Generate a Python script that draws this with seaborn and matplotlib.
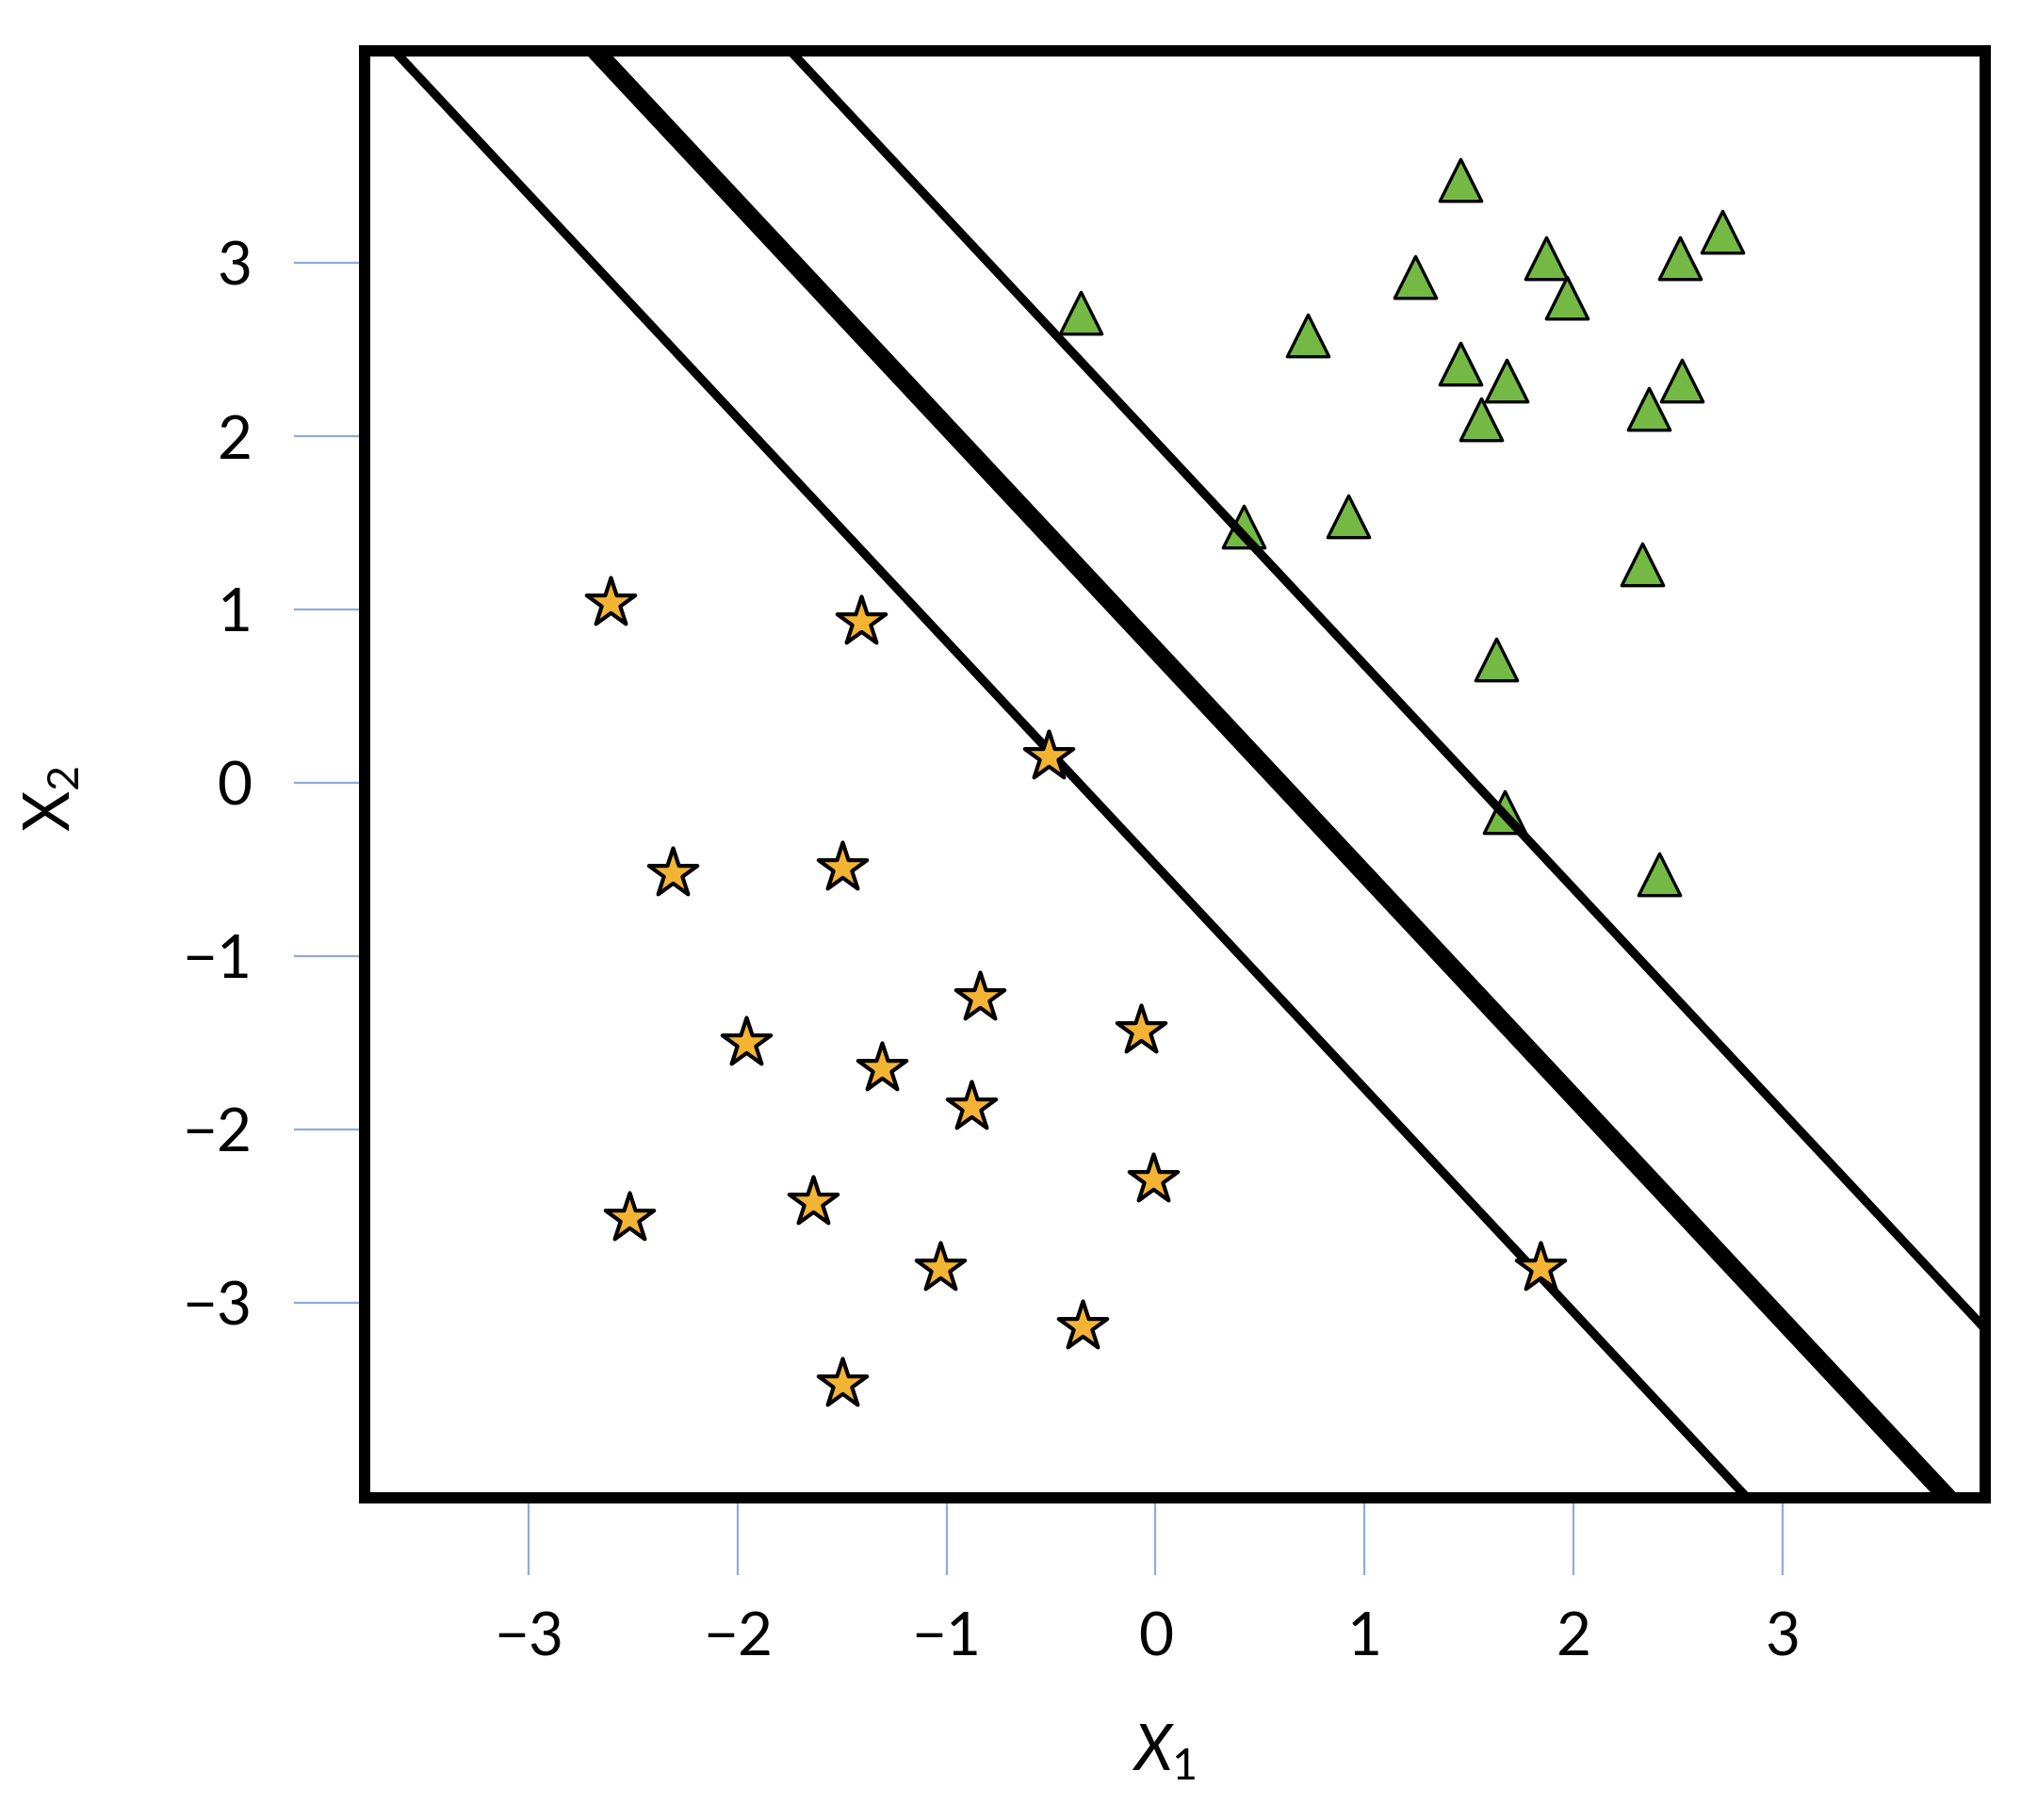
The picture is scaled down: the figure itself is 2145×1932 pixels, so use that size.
import numpy as np
import matplotlib.pyplot as plt
import seaborn as sns

# class +1 (green triangles)
tri_x1 = [1.46, 2.71, 2.51, 1.87, 1.97, 1.24, -0.36, 0.73, 1.46, 1.68, 2.52, 1.56, 2.36, 0.42, 0.92, 2.33, 1.63, 1.67, 2.41]
tri_x2 = [3.48, 3.18, 3.03, 3.03, 2.80, 2.92, 2.71, 2.58, 2.42, 2.32, 2.32, 2.10, 2.16, 1.48, 1.54, 1.26, 0.71, -0.17, -0.53]

# class -1 (orange stars)
star_x1 = [-2.61, -1.41, -0.51, -2.31, -1.50, -0.84, -1.96, -1.31, -0.07, -0.88, -0.01, -2.52, -1.64, -1.03, 1.84, -0.35, -1.50]
star_x2 = [1.04, 0.93, 0.15, -0.52, -0.49, -1.24, -1.50, -1.65, -1.43, -1.87, -2.29, -2.51, -2.42, -2.80, -2.80, -3.14, -3.47]

# separating hyperplane x2 = b + slope * x1, with its two margins
hyper_slope = -1.29
hyper_b = [-0.475, 0.766, 1.969]
hyper_role = ['margin', 'boundary', 'margin']

ticks = [-3, -2, -1, 0, 1, 2, 3]
tick_labels = ['\u22123', '\u22122', '\u22121', '0', '1', '2', '3']

sns.set_theme(style='white')
plt.rcParams['font.family'] = ['Lato', 'DejaVu Sans']
plt.rcParams['mathtext.fontset'] = 'custom'
plt.rcParams['mathtext.rm'] = 'Lato'
plt.rcParams['mathtext.it'] = 'Lato:italic'

fig = plt.figure(figsize=(10.725, 9.66), dpi=200)
ax = fig.add_axes([0.1804, 0.177, 0.8019, 0.795])

# lines
xs = np.array([-4.5, 4.5])
for b, role in zip(hyper_b, hyper_role):
    lw = 7.0 if role == 'boundary' else 3.4
    sns.lineplot(x=xs, y=b + hyper_slope * xs, color='black', lw=lw, ax=ax, zorder=3)

# points
sns.scatterplot(x=tri_x1, y=tri_x2, marker='^', s=256, color='#74B944',
                edgecolor='black', linewidth=1.2, ax=ax, zorder=2)
sns.scatterplot(x=star_x1, y=star_x2, marker='*', s=380, color='#F4B433',
                edgecolor='black', linewidth=1.5, ax=ax, zorder=4)

ax.set_xlim(-3.785, 3.970)
ax.set_ylim(-4.127, 4.223)

ax.set_xticks(ticks, tick_labels)
ax.set_yticks(ticks, tick_labels)
ax.tick_params(axis='x', direction='out', bottom=True, length=29.5, width=0.8,
               color='#8FAADC', pad=13.7, labelsize=23, labelcolor='black')
ax.tick_params(axis='y', direction='out', left=True, length=27, width=0.8,
               color='#8FAADC', pad=16, labelsize=23, labelcolor='black')

for sp in ax.spines.values():
    sp.set_linewidth(4.3)
    sp.set_color('black')
    sp.set_zorder(5)

ax.set_xlabel('$X_1$', fontsize=24, va='center', color='black')
ax.xaxis.set_label_coords(0.493, -0.176)
ax.set_ylabel(r'$\mathregular{X_2}$', fontsize=24, va='center', color='black')
ax.yaxis.set_label_coords(-0.193, 0.483)

fig.savefig('out.png', dpi=200)
